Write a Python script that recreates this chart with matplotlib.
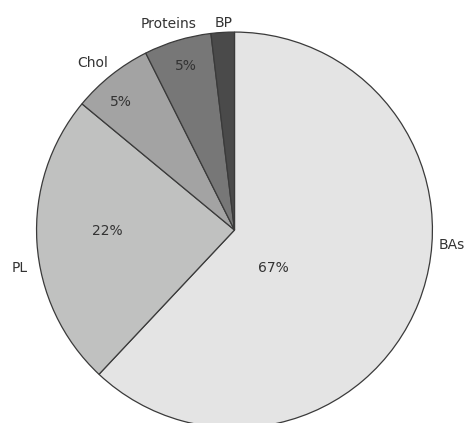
import matplotlib.pyplot as plt

# composition (wedge sizes, labels as printed)
categories = ["BAs", "PL", "Chol", "Proteins", "BP"]
sizes = [62.0, 24.0, 6.6, 5.5, 1.9]
pct_labels = ["67%", "22%", "5%", "5%", ""]
colors = ["#e4e4e4", "#c0c1c0", "#a3a3a3", "#777777", "#4a4a4a"]

# label placement (data units, pie radius = 1)
name_pos = [(1.098, -0.076), (-1.083, -0.192), (-0.715, 0.843), (-0.331, 1.040), (-0.053, 1.045)]
pct_pos = [(0.194, -0.192), (-0.643, -0.005), (-0.575, 0.648), (-0.245, 0.830), (0, 0)]

fig = plt.figure(figsize=(4.67, 4.23), dpi=100)
ax = fig.add_axes([0, 0, 1, 1])
ax.pie(sizes, colors=colors, startangle=90, counterclock=False,
       wedgeprops=dict(edgecolor="#3a3a3a", linewidth=0.9))

for name, (x, y) in zip(categories, name_pos):
    ax.text(x, y, name, ha="center", va="center", fontsize=10, color="#333333")
for lab, (x, y) in zip(pct_labels, pct_pos):
    if lab:
        ax.text(x, y, lab, ha="center", va="center", fontsize=10, color="#333333")

ax.set_xlim(-1.184, 1.174)
ax.set_ylim(-0.975, 1.162)
ax.axis("off")

fig.savefig("out.png", dpi=100)
